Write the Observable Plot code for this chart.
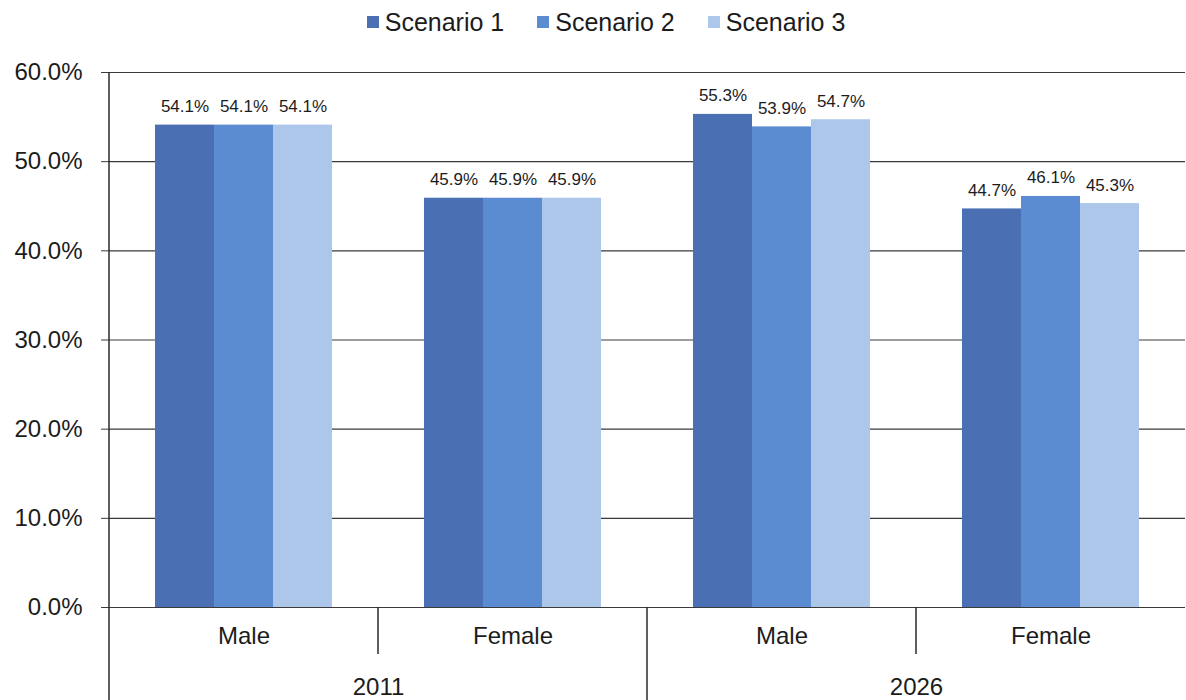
<!DOCTYPE html>
<html>
<head>
<meta charset="utf-8">
<script src="https://cdn.jsdelivr.net/npm/d3@7"></script>
<script src="https://cdn.jsdelivr.net/npm/@observablehq/plot@0.6"></script>
<style>
  html, body { margin: 0; padding: 0; background: #fff; }
  #legend {
    height: 44px; display: flex; justify-content: center; align-items: center;
    padding-left: 26px; gap: 33px;
    font-family: "Liberation Sans", Arial, sans-serif; font-size: 25px; color: #1c1c1c;
  }
  #legend .item { display: flex; align-items: center; }
  #legend .sw { width: 12px; height: 12px; margin-right: 6px; }
</style>
</head>
<body>
<div id="legend"></div>
<div id="chart"></div>
<script>
// Population share by sex, projected under three scenarios
const years = ["2011", "2026"];
const sexes = ["Male", "Female"];
const scenarios = ["Scenario 1", "Scenario 2", "Scenario 3"];
// values in group order: 2011 Male, 2011 Female, 2026 Male, 2026 Female (%)
const scenario1 = [54.1, 45.9, 55.3, 44.7];
const scenario2 = [54.1, 45.9, 53.9, 46.1];
const scenario3 = [54.1, 45.9, 54.7, 45.3];
const yTicks = [0, 10, 20, 30, 40, 50, 60];
const colors = ["#4a6fb3", "#5b8bd0", "#adc7ea"];

const groups = years.flatMap(year => sexes.map(sex => ({year, sex, key: `${year} ${sex}`})));
const series = [scenario1, scenario2, scenario3];
const rows = groups.flatMap((g, i) =>
  scenarios.map((s, j) => ({...g, scenario: s, value: series[j][i]}))
);
const yearLabels = years.map(year => ({year, key: `${year} ${sexes[0]}`}));

// legend
const legend = d3.select("#legend");
scenarios.forEach((s, i) => {
  const item = legend.append("div").attr("class", "item");
  item.append("div").attr("class", "sw").style("background", colors[i]);
  item.append("span").text(s);
});

const W = 1186, H = 656;
const plot = Plot.plot({
  width: W,
  height: H,
  marginTop: 28,
  marginBottom: 93,
  marginLeft: 108,
  marginRight: 0,
  style: {fontFamily: "Liberation Sans, Arial, sans-serif", fontSize: "16px", color: "#1c1c1c", background: "#fff", overflow: "visible"},
  fx: {domain: groups.map(g => g.key), padding: 0},
  x: {domain: scenarios, paddingInner: 0, paddingOuter: 0.75, axis: null},
  y: {domain: [0, 60]},
  color: {domain: scenarios, range: colors},
  marks: [
    Plot.gridY(yTicks, {stroke: "#3a3a3a", strokeOpacity: 1, strokeWidth: 1.2}),
    Plot.barY(rows, {fx: "key", x: "scenario", y: "value", fill: "scenario"}),
    Plot.text(rows, {
      fx: "key", x: "scenario", y: "value",
      text: d => d.value.toFixed(1) + "%",
      lineAnchor: "bottom", dy: -13, fontSize: 17, fill: "#1c1c1c"
    }),
    Plot.ruleY([0], {stroke: "#3a3a3a", strokeWidth: 1.2}),
    Plot.axisY(yTicks, {
      tickFormat: d => d.toFixed(1) + "%", tickSize: 8, tickPadding: 19,
      fontSize: 24, label: null, stroke: "#3a3a3a"
    }),
    Plot.axisFx({
      anchor: "bottom", tickSize: 0, tickPadding: 19, fontSize: 24, label: null,
      tickFormat: k => k.split(" ")[1]
    }),
    Plot.text(yearLabels, {
      fx: "key", text: "year", frameAnchor: "bottom-right",
      textAnchor: "middle", lineAnchor: "top", dy: 70, fontSize: 24, fill: "#1c1c1c"
    })
  ]
});

// category table lines below the axis, placed on the facet band edges
const fx = plot.scale("fx");
const y = plot.scale("y");
const g = d3.select(plot).append("g").attr("stroke", "#2a2a2a").attr("stroke-width", 1.5);
groups.forEach((grp, i) => {
  const xPos = fx.apply(grp.key);
  const isYearStart = grp.sex === sexes[0];
  const top = i === 0 ? y.apply(60) : y.apply(0);
  const bottom = isYearStart ? H : y.apply(0) + 47;
  g.append("line").attr("x1", xPos).attr("x2", xPos).attr("y1", top).attr("y2", bottom);
});

document.getElementById("chart").appendChild(plot);
</script>
</body>
</html>
